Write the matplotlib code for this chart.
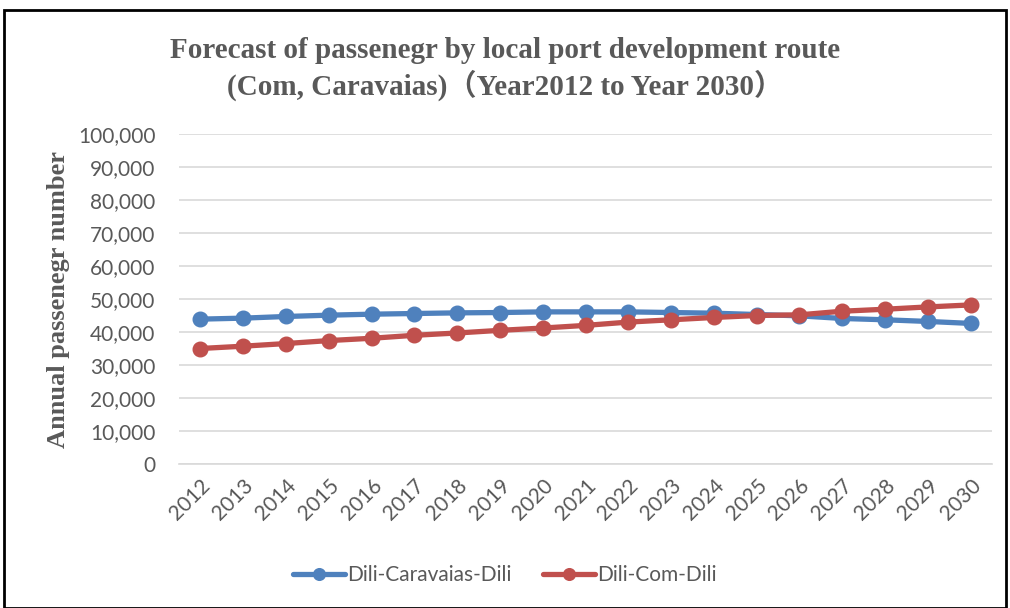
import matplotlib
matplotlib.use("Agg")
import matplotlib.pyplot as plt
from matplotlib.patches import Rectangle
from matplotlib.ticker import FuncFormatter

# data
years = [str(y) for y in range(2012, 2031)]
caravaias = [43.9, 44.2, 44.7, 45.1, 45.4, 45.6, 45.8, 45.9, 46.1, 46.1,
             46.1, 45.9, 45.7, 45.3, 44.9, 44.1, 43.7, 43.2, 42.6]
com = [35.0, 35.7, 36.5, 37.4, 38.1, 39.0, 39.7, 40.5, 41.2, 42.0,
       43.0, 43.7, 44.4, 45.0, 45.2, 46.3, 46.9, 47.6, 48.2]
caravaias = [v * 1000 for v in caravaias]
com = [v * 1000 for v in com]

blue = "#4F81BD"
red = "#C0504D"
grey_text = "#595959"

W, H = 1010, 608
fig = plt.figure(figsize=(W / 100, H / 100), dpi=100)

# outer chart frame
fig.patches.append(Rectangle((4 / W, 0), 1002 / W, 1 - 10 / H, transform=fig.transFigure,
                             fill=False, edgecolor="black", linewidth=2))

ax = fig.add_axes([179 / W, 1 - 464 / H, (992 - 179) / W, (464 - 134) / H])

x = list(range(len(years)))
ax.plot(x, caravaias, color=blue, lw=3.8, marker="o", ms=10.5, label="Dili-Caravaias-Dili",
        solid_capstyle="round")
ax.plot(x, com, color=red, lw=3.8, marker="o", ms=10.5, label="Dili-Com-Dili",
        solid_capstyle="round")

ax.set_xlim(-0.5, len(years) - 0.5)
ax.set_ylim(0, 100000)
ax.set_yticks(range(0, 100001, 10000))
ax.yaxis.set_major_formatter(FuncFormatter(lambda v, p: f"{int(v):,}"))
ax.set_xticks(x)
ax.set_xticklabels(years, rotation=45, ha="right", rotation_mode="anchor")

ax.grid(axis="y", color="#D9D9D9", lw=1.2)
ax.set_axisbelow(True)
for s in ["top", "right", "left"]:
    ax.spines[s].set_visible(False)
ax.spines["bottom"].set_color("#D9D9D9")
ax.spines["bottom"].set_linewidth(1.2)
ax.tick_params(axis="both", length=0, colors=grey_text, labelsize=15)
for lbl in ax.get_xticklabels() + ax.get_yticklabels():
    lbl.set_family("Lato")
ax.tick_params(axis="y", pad=17)
ax.tick_params(axis="x", pad=8)

ax.set_ylabel("Annual passenegr number", family="Liberation Serif", fontweight="bold",
              fontsize=19, color=grey_text, labelpad=6)

fig.text(0.5, 1 - 50 / H, "Forecast of passenegr by local port development route",
         ha="center", va="center", family="Liberation Serif", fontweight="bold",
         fontsize=21, color=grey_text)
fig.text(0.5, 1 - 85 / H, "(Com, Caravaias)\uff08Year2012 to Year 2030\uff09",
         ha="center", va="center", family=["Liberation Serif", "Noto Sans CJK SC"],
         fontweight="bold", fontsize=21, color=grey_text)

leg = fig.legend(loc="center", bbox_to_anchor=(0.5, 1 - 575 / H), ncol=2, frameon=False,
                 prop={"family": "Lato", "size": 15}, handlelength=2.5, columnspacing=1.5,
                 handletextpad=0.1, markerscale=0.8)
for t in leg.get_texts():
    t.set_color(grey_text)

fig.savefig("out.png", dpi=100)
